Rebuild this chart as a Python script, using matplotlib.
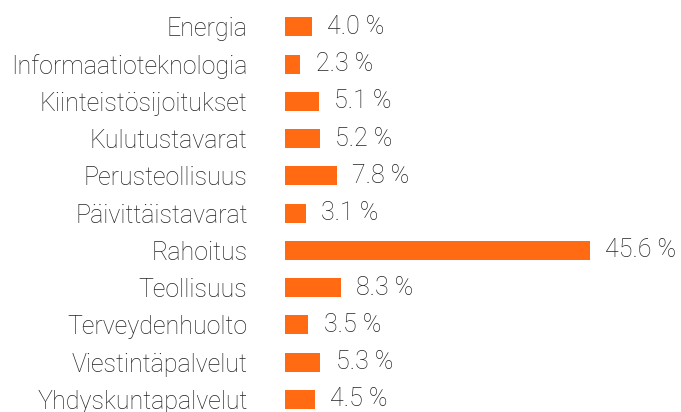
import matplotlib
matplotlib.use("Agg")
import matplotlib.pyplot as plt

# sector weights, %
sectors = ["Energia", "Informaatioteknologia", "Kiinteistösijoitukset", "Kulutustavarat",
           "Perusteollisuus", "Päivittäistavarat", "Rahoitus", "Teollisuus",
           "Terveydenhuolto", "Viestintäpalvelut", "Yhdyskuntapalvelut"]
weights = [4.0, 2.3, 5.1, 5.2, 7.8, 3.1, 45.6, 8.3, 3.5, 5.3, 4.5]

plt.rcParams['font.family'] = ['Roboto', 'DejaVu Sans']
plt.rcParams['font.weight'] = 'light'

fig = plt.figure(figsize=(6.81, 4.12), dpi=100)
ax = fig.add_axes([285 / 681, 0, 396 / 681, 1])

pos = range(len(sectors))
ax.barh(pos, weights, height=0.51, color="#ff6a13")
for y, w in zip(pos, weights):
    ax.annotate(f"{w:.1f} %", (w, y), xytext=(11, 0), textcoords="offset points",
                va="center", ha="left", fontsize=18, color="#222222", fontweight='light')

ax.set_yticks(list(pos))
ax.set_yticklabels(sectors, fontsize=18, color="#222222", fontweight='light')
ax.tick_params(axis="y", length=0, pad=27)
ax.set_xticks([])
ax.set_xlim(0, 59.2)
ax.set_ylim(10.34, -0.72)
for s in ax.spines.values():
    s.set_visible(False)

fig.savefig("out.png", dpi=100)
